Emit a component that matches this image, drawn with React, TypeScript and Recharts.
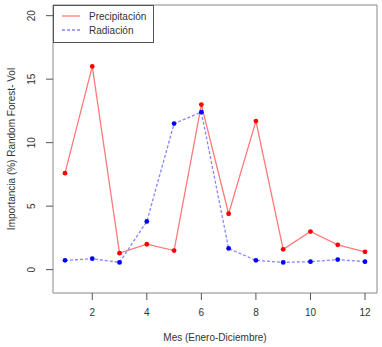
import React from "react";
import { LineChart, Line, XAxis, YAxis, ReferenceArea } from "recharts";

const months = [1, 2, 3, 4, 5, 6, 7, 8, 9, 10, 11, 12];
const precipitacion = [7.6, 16.0, 1.3, 2.0, 1.5, 13.0, 4.4, 11.7, 1.6, 3.0, 1.95, 1.4];
const radiacion = [0.73, 0.86, 0.57, 3.8, 11.5, 12.4, 1.67, 0.73, 0.57, 0.63, 0.79, 0.63];
const xTicks = [2, 4, 6, 8, 10, 12];
const yTicks = [0, 5, 10, 15, 20];
const seriesNames = ["Precipitación", "Radiación"];

const data = months.map((m, i) => ({
  mes: m,
  precipitacion: precipitacion[i],
  radiacion: radiacion[i],
}));

const FONT = "'Liberation Sans', Arial, sans-serif";
const X_DOMAIN: [number, number] = [0.56, 12.44];
const Y_DOMAIN: [number, number] = [-1.84, 20.84];
const RED_LINE = "#ff7a7a";
const BLUE_LINE = "#8484ff";

const XTick = (props: any) => {
  const { x, payload } = props;
  return (
    <text x={x} y={316} textAnchor="middle" fontSize={10} fill="#333" fontFamily={FONT}>
      {payload.value}
    </text>
  );
};

const YTick = (props: any) => {
  const { y, payload } = props;
  return (
    <text
      x={35}
      y={y}
      textAnchor="middle"
      fontSize={10}
      fill="#333"
      fontFamily={FONT}
      transform={`rotate(-90, 35, ${y})`}
    >
      {payload.value}
    </text>
  );
};

const dot = (color: string) => (props: any) => {
  const { cx, cy, index } = props;
  return <circle key={index} cx={cx} cy={cy} r={2.4} fill={color} stroke="none" />;
};

export default function App() {
  return (
    <div style={{ position: "absolute", left: 0, top: 0, width: 382, height: 347, background: "#fff", fontFamily: FONT }}>
      <LineChart width={382} height={347} data={data} margin={{ top: 5, right: 5, bottom: 0, left: 0 }}>
        <XAxis
          dataKey="mes"
          type="number"
          domain={X_DOMAIN}
          ticks={xTicks}
          allowDataOverflow
          axisLine={false}
          tickLine={{ stroke: "#555" }}
          tickSize={7}
          tick={<XTick />}
          height={54}
          interval={0}
        />
        <YAxis
          type="number"
          domain={Y_DOMAIN}
          ticks={yTicks}
          allowDataOverflow
          axisLine={false}
          tickLine={{ stroke: "#555" }}
          tickSize={7}
          tick={<YTick />}
          width={53}
          interval={0}
        />
        <ReferenceArea
          x1={X_DOMAIN[0]}
          x2={X_DOMAIN[1]}
          y1={Y_DOMAIN[0]}
          y2={Y_DOMAIN[1]}
          fill="none"
          fillOpacity={0}
          stroke="#888"
          strokeWidth={1}
          ifOverflow="visible"
        />
        <Line
          type="linear"
          dataKey="radiacion"
          stroke={BLUE_LINE}
          strokeWidth={1.3}
          strokeDasharray="3 2"
          dot={dot("#0000ff")}
          isAnimationActive={false}
        />
        <Line
          type="linear"
          dataKey="precipitacion"
          stroke={RED_LINE}
          strokeWidth={1.3}
          dot={dot("#ff0000")}
          isAnimationActive={false}
        />
      </LineChart>
      <svg width={382} height={347} style={{ position: "absolute", left: 0, top: 0, pointerEvents: "none" }}>
        <rect x={53.5} y={5.5} width={100} height={37} fill="#fff" stroke="#555" strokeWidth={1} />
        <line x1={62} x2={80} y1={16} y2={16} stroke={RED_LINE} strokeWidth={1.3} />
        <line x1={62} x2={80} y1={30} y2={30} stroke={BLUE_LINE} strokeWidth={1.3} strokeDasharray="3 2" />
        <text x={89} y={20} fontSize={10} fill="#333" fontFamily={FONT}>{seriesNames[0]}</text>
        <text x={89} y={34} fontSize={10} fill="#333" fontFamily={FONT}>{seriesNames[1]}</text>
        <text x={215} y={341} fontSize={10} fill="#333" fontFamily={FONT} textAnchor="middle">
          Mes (Enero-Diciembre)
        </text>
        <text
          x={15}
          y={149}
          fontSize={10}
          fill="#333"
          fontFamily={FONT}
          textAnchor="middle"
          transform="rotate(-90, 15, 149)"
        >
          Importancia (%) Random Forest- Vol
        </text>
      </svg>
    </div>
  );
}
